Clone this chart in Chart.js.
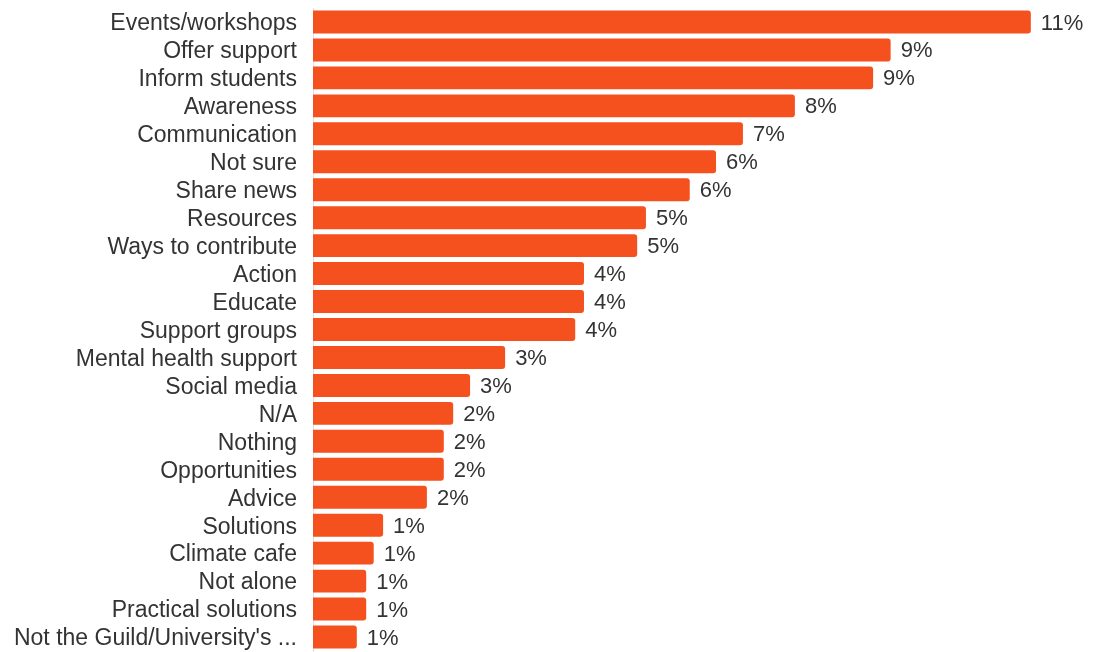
<!DOCTYPE html>
<html>
<head>
<meta charset="utf-8">
<script src="https://cdn.jsdelivr.net/npm/chart.js@4"></script>
<style>
  html, body { margin: 0; padding: 0; background: #fff; }
  #wrap { width: 1093px; height: 652px; position: relative; }
</style>
</head>
<body>
<div id="wrap"><canvas id="chart"></canvas></div>
<script>
const categories = [
  "Events/workshops", "Offer support", "Inform students", "Awareness",
  "Communication", "Not sure", "Share news", "Resources",
  "Ways to contribute", "Action", "Educate", "Support groups",
  "Mental health support", "Social media", "N/A", "Nothing",
  "Opportunities", "Advice", "Solutions", "Climate cafe",
  "Not alone", "Practical solutions", "Not the Guild/University's ..."
];

// share of responses, in percent
const shares = [
  11.47, 9.23, 8.95, 7.70,
  6.87, 6.44, 6.02, 5.32,
  5.18, 4.33, 4.33, 4.19,
  3.07, 2.51, 2.24, 2.09,
  2.09, 1.82, 1.12, 0.97,
  0.85, 0.85, 0.70
];

const BAR_COLOR = "#f4511e";
const TEXT_COLOR = "#333333";
const FONT = "Arial, 'Liberation Sans', sans-serif";

// writes the rounded percentage just past the end of each bar
const valueLabels = {
  id: "valueLabels",
  afterDatasetsDraw(chart) {
    const ctx = chart.ctx;
    const meta = chart.getDatasetMeta(0);
    ctx.save();
    ctx.font = "22px " + FONT;
    ctx.fillStyle = TEXT_COLOR;
    ctx.textAlign = "left";
    ctx.textBaseline = "middle";
    meta.data.forEach((bar, i) => {
      ctx.fillText(Math.round(shares[i]) + "%", bar.x + 10, bar.y + 1.5);
    });
    ctx.restore();
  }
};

new Chart(document.getElementById("chart"), {
  type: "bar",
  data: {
    labels: categories,
    datasets: [{
      data: shares,
      backgroundColor: BAR_COLOR,
      borderRadius: 3,
      borderSkipped: "start",
      categoryPercentage: 0.82,
      barPercentage: 1
    }]
  },
  options: {
    indexAxis: "y",
    responsive: true,
    maintainAspectRatio: false,
    animation: false,
    layout: { padding: { top: 8, bottom: 1, left: 0, right: 29 } },
    plugins: {
      legend: { display: false },
      tooltip: { enabled: false }
    },
    scales: {
      x: {
        display: false,
        min: 0,
        max: 12
      },
      y: {
        afterFit(scale) {
          scale.width = 313;
          scale.paddingTop = 0;
          scale.paddingBottom = 0;
        },
        grid: { display: false },
        border: { display: true, color: "#e0e0e0", dash: [2, 2] },
        ticks: {
          padding: 8,
          labelOffset: 2,
          color: TEXT_COLOR,
          font: { family: FONT, size: 23 },
          autoSkip: false
        }
      }
    }
  },
  plugins: [valueLabels]
});
</script>
</body>
</html>
